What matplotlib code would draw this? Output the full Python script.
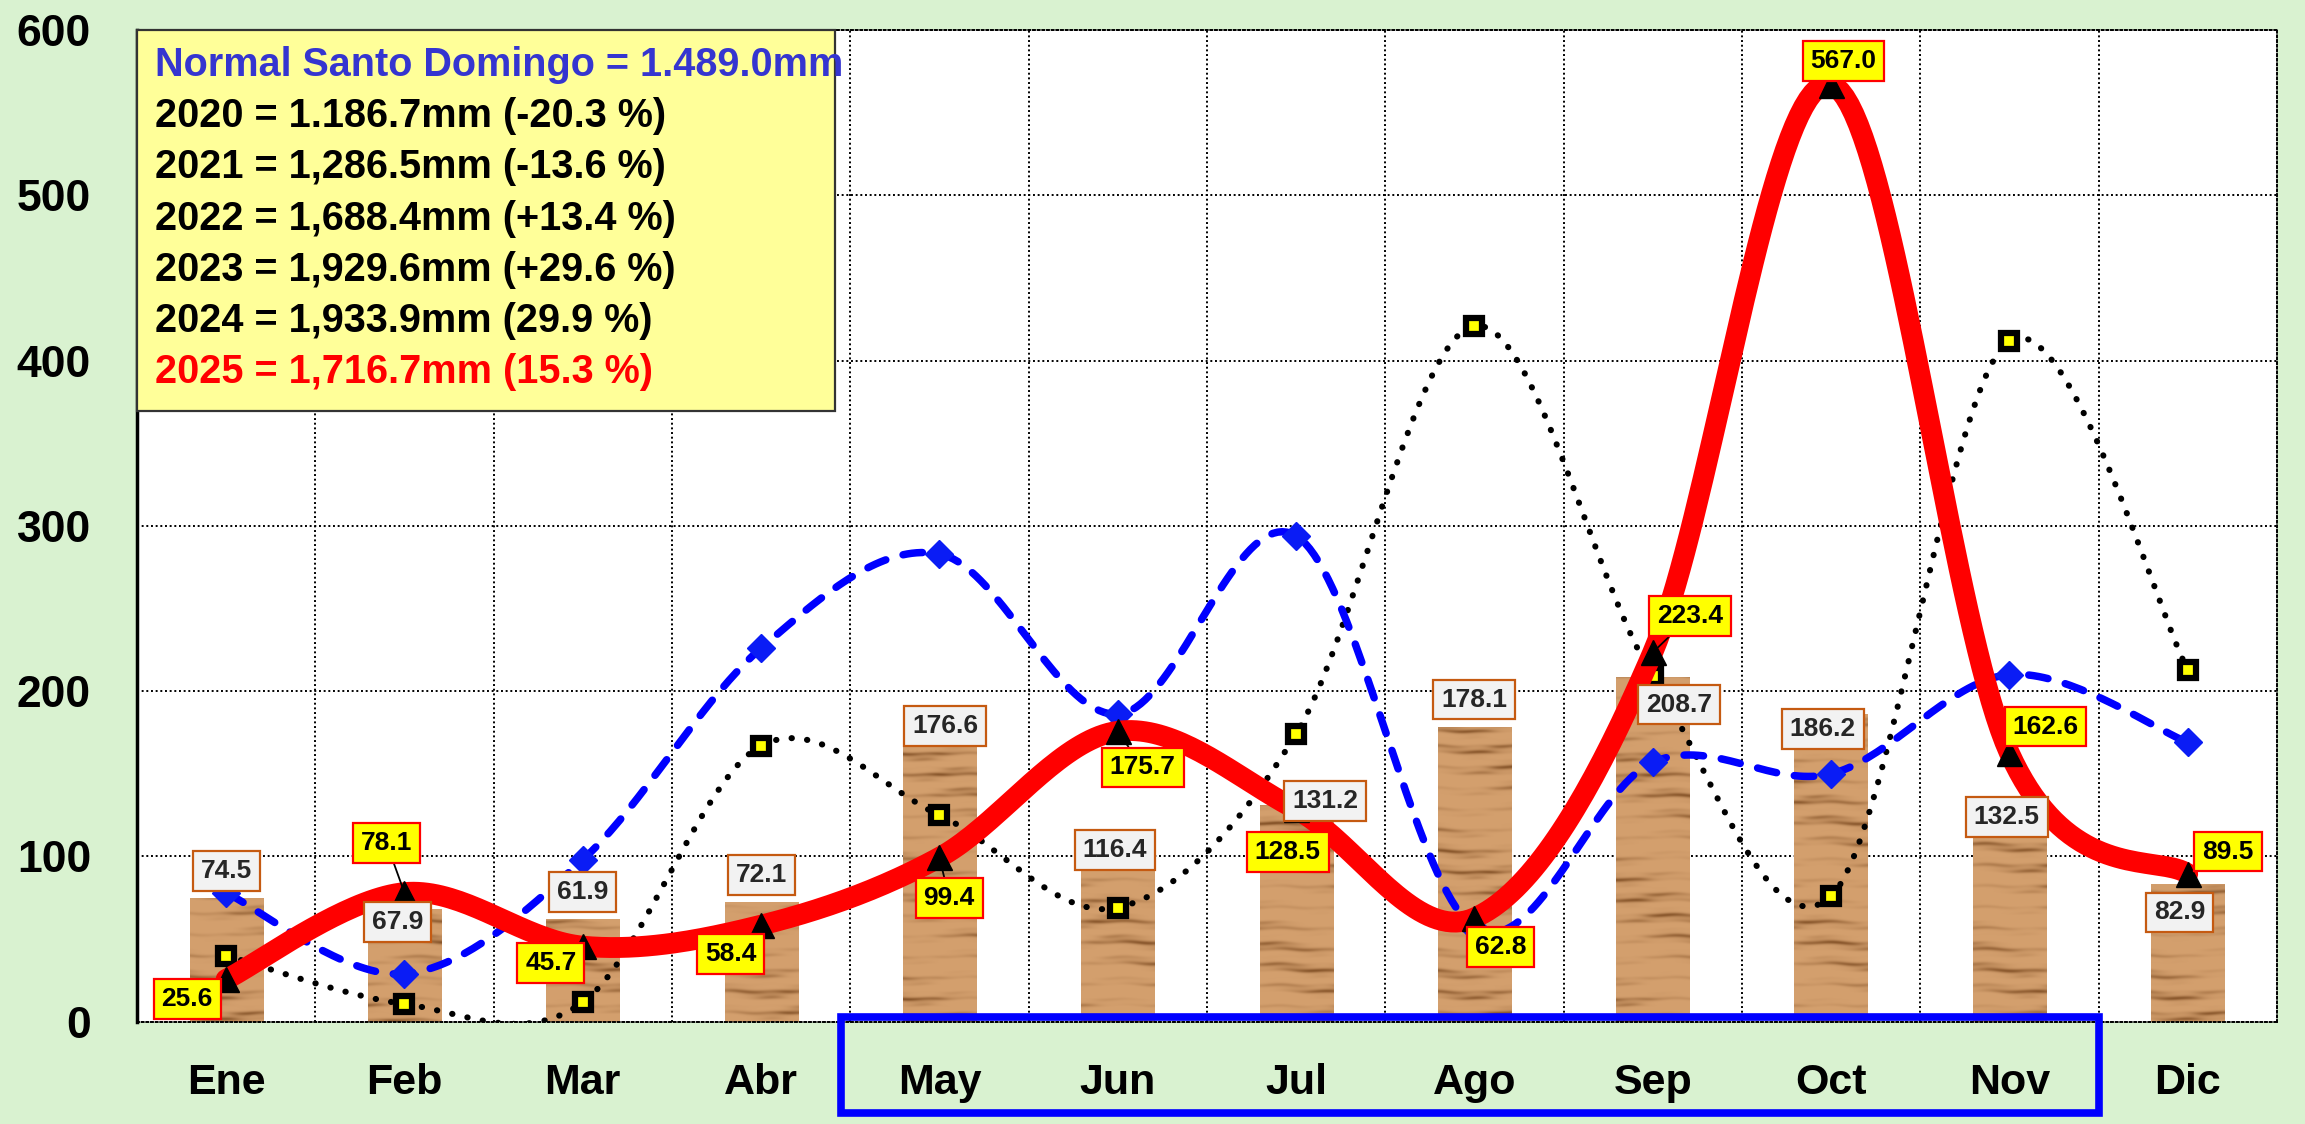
import numpy as np
import matplotlib
matplotlib.use("Agg")
import matplotlib.pyplot as plt
from matplotlib.patches import Rectangle
from matplotlib.transforms import blended_transform_factory

# data
months = ["Ene", "Feb", "Mar", "Abr", "May", "Jun", "Jul", "Ago", "Sep", "Oct", "Nov", "Dic"]
bars_mm = [74.5, 67.9, 61.9, 72.1, 176.6, 116.4, 131.2, 178.1, 208.7, 186.2, 132.5, 82.9]
rain_2025 = [25.6, 78.1, 45.7, 58.4, 99.4, 175.7, 128.5, 62.8, 223.4, 567.0, 162.6, 89.5]
blue_series = [78, 29, 98, 226, 283, 186, 294, 57, 157, 150, 210, 169]
dotted_series = [40, 10.7, 11.7, 167, 125, 69, 174, 421, 209, 76, 412, 213]

legend_lines = ["Normal Santo Domingo = 1.489.0mm",
                "2020 = 1.186.7mm (-20.3 %)",
                "2021 = 1,286.5mm (-13.6 %)",
                "2022 = 1,688.4mm (+13.4 %)",
                "2023 = 1,929.6mm (+29.6 %)",
                "2024 = 1,933.9mm (29.9 %)",
                "2025 = 1,716.7mm (15.3 %)"]
legend_colors = ["#3535d0", "black", "black", "black", "black", "black", "#ff0000"]

# label offsets in points (layout only)
red_off = [(-28, -14), (-13, 36), (-23, -12), (-22, -21), (7, -29), (18, -26),
           (-6, -31), (19, -21), (27, 26), (9, 17), (26, 19), (29, 16)]
bar_off = [(0, 20), (-5, -9), (0, 20), (0, 20), (4, 3), (-2, -15),
           (21, 3), (0, 20), (19, -20), (-6, -11), (-2, -10), (-6, -20)]
red_leader = [False, True, False, False, True, True, False, False, True, False, False, False]
bar_leader = [False, False, False, False, False, False, True, False, False, False, False, False]

plt.rcParams['font.family'] = ['Liberation Sans', 'DejaVu Sans']


def smooth(vals, n=40):
    # Excel-like smoothed line (Catmull-Rom as cubic Bezier)
    p = np.column_stack([np.arange(len(vals), dtype=float), np.asarray(vals, float)])
    pts = np.vstack([p[0], p, p[-1]])
    t = np.linspace(0, 1, n)[:, None]
    out = []
    for i in range(1, len(pts) - 2):
        p0, p1, p2, p3 = pts[i - 1], pts[i], pts[i + 1], pts[i + 2]
        c1 = p1 + (p2 - p0) / 6
        c2 = p2 - (p3 - p1) / 6
        seg = (1 - t)**3 * p1 + 3 * (1 - t)**2 * t * c1 + 3 * (1 - t) * t**2 * c2 + t**3 * p2
        out.append(seg if i == 1 else seg[1:])
    s = np.vstack(out)
    return s[:, 0], s[:, 1]


def wood(rows, cols, seed):
    # simple horizontal wood grain
    yy, xx = np.mgrid[0:rows, 0:cols].astype(float)
    g = (0.5 * np.sin(yy * 0.31 + 0.8 * np.sin(xx * 0.07 + seed) + seed)
         + 0.2 * np.sin(yy * 0.9 + 0.5 * np.sin(xx * 0.15 + 2 * seed))
         + 0.3 * np.sin(yy * 0.05 + xx * 0.03 + seed))
    g = (g - g.min()) / (g.max() - g.min())
    g = g**5
    light = np.array([212, 160, 110]) / 255
    dark = np.array([135, 85, 42]) / 255
    return light + (dark - light) * g[..., None]


fig = plt.figure(figsize=(23.05, 11.24), dpi=100, facecolor="#d9f2d0")
ax = fig.add_axes([0.0594, 0.0910, 0.9284, 0.8823])
ax.set_facecolor("white")

x = np.arange(len(months))
bw = 0.41

bars = ax.bar(x, bars_mm, width=bw, color="#c8915a", zorder=2)
for i, (b, v) in enumerate(zip(bars, bars_mm)):
    rows = max(int(v * 1.65), 2)
    img = wood(rows, 72, i * 1.7)
    ax.imshow(img[::-1], extent=(i - bw / 2, i + bw / 2, 0, v), aspect="auto",
              zorder=2.1, interpolation="bilinear")

sx, sy = smooth(dotted_series)
ax.plot(sx, sy, color="black", lw=4.4, ls=(0, (0.05, 2.5)), dash_capstyle="round", zorder=3)
ax.plot(x, dotted_series, ls="none", marker="s", ms=11, mfc="yellow", mec="black", mew=4.5, zorder=3.2)

sx, sy = smooth(blue_series)
ax.plot(sx, sy, color="#0000ff", lw=5.4, ls=(0, (2.6, 2.4)), dash_capstyle="round", zorder=4)
ax.plot(x, blue_series, ls="none", marker="D", ms=14, color="#0a1cf5", zorder=4.2)

sx, sy = smooth(rain_2025)
ax.plot(sx, sy, color="#ff0000", lw=15, solid_capstyle="round", zorder=5)
ax.plot(x, rain_2025, ls="none", marker="^", ms=18, color="black", zorder=5.2)

for i, v in enumerate(bars_mm):
    ap = dict(arrowstyle="-", color="black", lw=1.3, shrinkA=0, shrinkB=0) if bar_leader[i] else None
    ax.annotate(f"{v:.1f}", xy=(i, v), xytext=bar_off[i], textcoords="offset points",
                ha="center", va="center", fontsize=19, fontweight="bold", color="#262626",
                bbox=dict(boxstyle="square,pad=0.3", fc="#f2f2f2", ec="#c55a11", lw=1.6),
                arrowprops=ap, zorder=8)

for i, v in enumerate(rain_2025):
    ap = dict(arrowstyle="-", color="black", lw=1.3, shrinkA=0, shrinkB=4) if red_leader[i] else None
    ax.annotate(f"{v:.1f}", xy=(i, v), xytext=red_off[i], textcoords="offset points",
                ha="center", va="center", fontsize=19, fontweight="bold", color="black",
                bbox=dict(boxstyle="square,pad=0.3", fc="#ffff00", ec="#ff0000", lw=1.6),
                arrowprops=ap, zorder=9)

ax.set_xlim(-0.5, len(months) - 0.5)
ax.set_ylim(0, 600)
ax.set_yticks(range(0, 601, 100))
ax.set_xticks(x)
ax.set_xticklabels(months)
ax.set_xticks(np.arange(0.5, len(months) - 1, 1), minor=True)
ax.set_axisbelow(True)
ax.yaxis.grid(True, ls=(0, (1, 1.4)), color="black", lw=1.4)
ax.xaxis.grid(True, which="minor", ls=(0, (1, 1.4)), color="black", lw=1.4)
ax.tick_params(axis="both", which="both", length=0)
ax.tick_params(axis="y", pad=33, labelsize=32)
ax.tick_params(axis="x", pad=30, labelsize=31)
for lab in ax.get_xticklabels() + ax.get_yticklabels():
    lab.set_fontweight("bold")
for side in ["top", "right", "bottom"]:
    ax.spines[side].set_linestyle((0, (1, 1.4)))
    ax.spines[side].set_linewidth(1.4)
ax.spines["left"].set_linewidth(2.5)

# legend box in the top-left corner
fig.patches.append(Rectangle((0.0594, 0.6343), 0.3028, 0.339, transform=fig.transFigure,
                             fc="#ffff99", ec="#333333", lw=1.6, zorder=20))
for k, (txt, col) in enumerate(zip(legend_lines, legend_colors)):
    fig.text(0.0672, 0.9422 - k * 0.0456, txt, color=col, fontsize=28.5, fontweight="bold",
             va="center", ha="left", zorder=21)

# blue frame around May..Nov labels
trans = blended_transform_factory(ax.transData, fig.transFigure)
i0, i1 = months.index("May"), months.index("Nov")
fig.patches.append(Rectangle((i0 - 0.55, 0.0098), (i1 + 0.5) - (i0 - 0.55), 0.0854,
                             transform=trans, fill=False, ec="#0000ff", lw=5.5, zorder=20))

fig.savefig("out.png", dpi=100, facecolor=fig.get_facecolor())
